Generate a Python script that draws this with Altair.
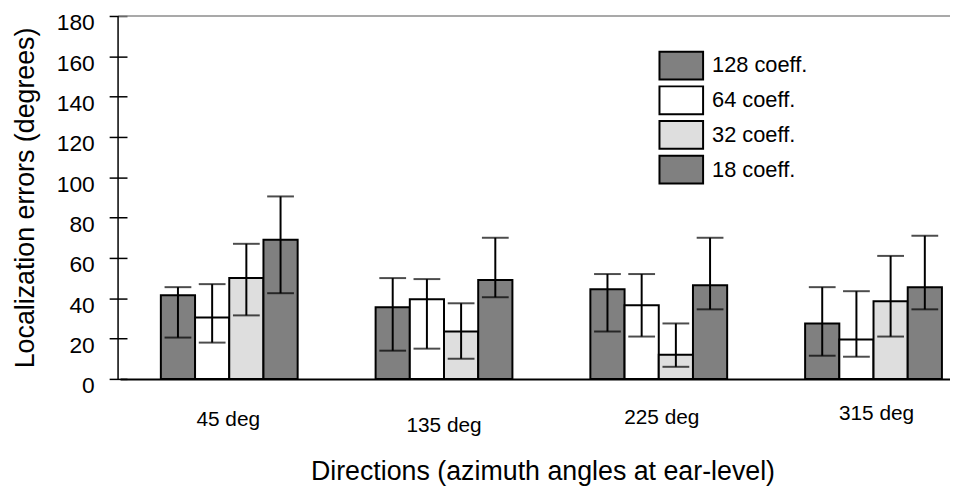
import altair as alt
import pandas as pd

groups = ["45 deg", "135 deg", "225 deg", "315 deg"]
series = ["128 coeff.", "64 coeff.", "32 coeff.", "18 coeff."]

mean_128 = [41.5, 35.5, 44.5, 27.5]
low_128 = [20.5, 14.0, 23.5, 11.5]
high_128 = [45.5, 50.0, 52.0, 45.5]

mean_64 = [30.5, 39.5, 36.5, 19.5]
low_64 = [18.0, 15.0, 21.0, 11.0]
high_64 = [47.0, 49.5, 52.0, 43.5]

mean_32 = [50.0, 23.5, 12.0, 38.5]
low_32 = [31.5, 10.0, 6.0, 21.0]
high_32 = [67.0, 37.5, 27.5, 61.0]

mean_18 = [69.0, 49.0, 46.5, 45.5]
low_18 = [42.5, 40.5, 34.5, 34.5]
high_18 = [90.5, 70.0, 70.0, 71.0]

fills = ["#808080", "#ffffff", "#dedede", "#808080"]

y_ticks = [0, 20, 40, 60, 80, 100, 120, 140, 160, 180]

means = [mean_128, mean_64, mean_32, mean_18]
lows = [low_128, low_64, low_32, low_18]
highs = [high_128, high_64, high_32, high_18]

rows = []
for s, m, lo, hi in zip(series, means, lows, highs):
    for g, mv, lv, hv in zip(groups, m, lo, hi):
        rows.append({"direction": g, "series": s, "mean": mv, "low": lv, "high": hv})
df = pd.DataFrame(rows)

FONT = "Liberation Sans"
W, H = 839, 366

x_enc = alt.X(
    "direction:N",
    sort=groups,
    scale=alt.Scale(range=[2, 872], paddingInner=0.363, paddingOuter=0.19),
    axis=alt.Axis(
        title="Directions (azimuth angles at ear-level)",
        titleFont=FONT,
        titleFontSize=27,
        titleFontWeight="normal",
        titleColor="black",
        titleBaseline="alphabetic",
        titleX=428,
        titleY=101,
        labelFont=FONT,
        labelFontSize=21,
        labelColor="black",
        labelAngle=0,
        labelBaseline="alphabetic",
        labelPadding={
            "condition": [
                {"test": "datum.value === '45 deg'", "value": 47},
                {"test": "datum.value === '135 deg'", "value": 53},
                {"test": "datum.value === '225 deg'", "value": 45},
            ],
            "value": 41,
        },
        labelOffset={
            "condition": [
                {"test": "datum.value === '45 deg'", "value": -1},
                {"test": "datum.value === '135 deg'", "value": 0},
                {"test": "datum.value === '225 deg'", "value": 3},
            ],
            "value": 3,
        },
        ticks=False,
        tickSize=0,
        domainColor="black",
        domainWidth=2,
        grid=False,
    ),
)
xoff = alt.XOffset("series:N", sort=series, scale=alt.Scale(paddingInner=0, paddingOuter=0))

y_scale = alt.Scale(domain=[0, 180], nice=False)
y_axis = alt.Axis(
    title="Localization errors (degrees)",
    titleFont=FONT,
    titleFontSize=27,
    titleFontWeight="normal",
    titleColor="black",
    titleX=-88,
    titleY=183,
    values=y_ticks,
    labelFont=FONT,
    labelFontSize=23,
    labelColor="black",
    labelPadding=15,
    labelOffset=7,
    tickSize=18,
    tickColor="black",
    tickWidth=1.5,
    offset=-9,
    domain=False,
    grid=False,
)

base = alt.Chart(df)

bars = base.mark_bar(stroke="black", strokeWidth=2).encode(
    x=x_enc,
    xOffset=xoff,
    y=alt.Y("mean:Q", scale=y_scale, axis=y_axis),
    fill=alt.Fill(
        "series:N",
        sort=series,
        scale=alt.Scale(domain=series, range=fills),
        legend=alt.Legend(
            title=None,
            orient="none",
            legendX=553,
            legendY=35,
            symbolType="M-1.571,-1H1.571V1H-1.571Z",
            symbolSize=784,
            symbolStrokeColor="black",
            symbolStrokeWidth=2,
            symbolOpacity=1,
            labelFont=FONT,
            labelFontSize=22,
            labelColor="black",
            labelOffset=16,
            rowPadding=-1,
            padding=0,
        ),
    ),
)

err = base.mark_rule(color="black", strokeWidth=2).encode(
    x=alt.X("direction:N", sort=groups),
    xOffset=xoff,
    y=alt.Y("low:Q", scale=y_scale),
    y2="high:Q",
)

cap_lo = base.mark_tick(color="black", thickness=2, size=27).encode(
    x=alt.X("direction:N", sort=groups),
    xOffset=xoff,
    y=alt.Y("low:Q", scale=y_scale),
)
cap_hi = base.mark_tick(color="black", thickness=2, size=27).encode(
    x=alt.X("direction:N", sort=groups),
    xOffset=xoff,
    y=alt.Y("high:Q", scale=y_scale),
)

top_line = alt.Chart(pd.DataFrame({"v": [180]})).mark_rule(color="#8c8c8c", strokeWidth=1.5).encode(
    y=alt.Y("v:Q", scale=y_scale),
    x=alt.value(0),
    x2=alt.value(W + 10),
)
left_line = alt.Chart(pd.DataFrame({"v": [0]})).mark_rule(color="black", strokeWidth=1.5).encode(
    x=alt.value(0),
    y=alt.value(0),
    y2=alt.value(H),
)

chart = (
    alt.layer(bars, err, cap_lo, cap_hi, top_line, left_line)
    .properties(
        width=W,
        height=H,
        autosize=alt.AutoSizeParams(type="none"),
        padding={"left": 111, "top": 6, "right": 0, "bottom": 110},
        background="white",
    )
    .configure_view(stroke=None)
)

chart.save("out.html", embed_options={"renderer": "svg", "actions": False})
